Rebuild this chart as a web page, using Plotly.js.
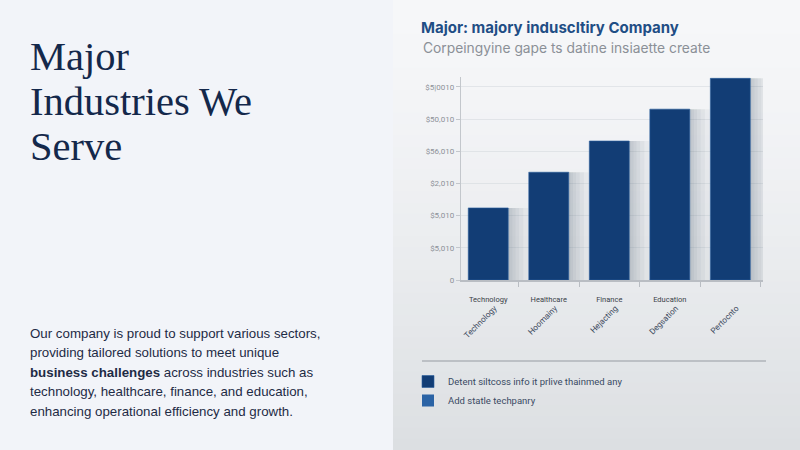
<!DOCTYPE html>
<html>
<head>
<meta charset="utf-8">
<script src="https://cdn.plot.ly/plotly-3.0.1.min.js"></script>
<style>
  html, body { margin: 0; padding: 0; background: #f2f4f9; }
  #chart { width: 800px; height: 450px; }
</style>
</head>
<body>
<div id="chart"></div>
<script>
// ---- data ----
const categories = ['Technology', 'Healthcare', 'Finance', 'Education', 'Pertocnto'];
const values = [2.24, 3.35, 4.32, 5.31, 6.27];
const topTickLabels = ['Technology', 'Healthcare', 'Finance', 'Education', ''];
const slantTickLabels = ['Technology', 'Hoomainy', 'Hejacting', 'Degsation', 'Pertocnto'];
const yTickVals = [0, 1, 2, 3, 4, 5, 6];
const yTickText = ['0', '$5,010', '$5,010', '$2,010', '$56,010', '$50,010', '$5|0010'];
const legendNames = ['Detent siltcoss info it prlive thainmed any', 'Add statle techpanry'];
const headingLines = ['Major', 'Industries We', 'Serve'];
const paragraphLines = [
  'Our company is proud to support various sectors,',
  'providing tailored solutions to meet unique',
  '<b>business challenges</b> across industries such as',
  'technology, healthcare, finance, and education,',
  'enhancing operational efficiency and growth.'
];
const chartTitle = 'Major: majory induscltiry Company';
const chartSubtitle = 'Corpeingyine gape ts datine insiaette create';

// ---- styling helpers ----
const W = 800, H = 450;
const px = x => x / W;
const py = y => 1 - y / H;

const shapes = [];
shapes.push({type: 'rect', xref: 'paper', yref: 'paper', x0: 0, x1: px(393), y0: 0, y1: 1,
  fillcolor: '#f2f4f9', line: {width: 0}, layer: 'below'});
const topC = [246, 247, 249], botC = [220, 223, 226];
const nb = 40;
for (let i = 0; i < nb; i++) {
  const t = i / (nb - 1);
  const c = topC.map((v, k) => Math.round(v + (botC[k] - v) * Math.pow(t, 1.4)));
  shapes.push({type: 'rect', xref: 'paper', yref: 'paper',
    x0: px(393), x1: 1, y0: py((i + 1) * H / nb) - 0.002, y1: py(i * H / nb),
    fillcolor: `rgb(${c[0]},${c[1]},${c[2]})`, line: {width: 0}, layer: 'below'});
}
shapes.push({type: 'line', xref: 'paper', yref: 'paper', x0: px(422), x1: px(766), y0: py(361), y1: py(361),
  line: {color: '#bcc0c5', width: 2}});

const annotations = [];
// heading: one text block; base font sets the line spacing (45px), inner span sets glyph size
annotations.push({
  text: headingLines.map(t => '<span style="font-size:40.5px">' + t + '</span>').join('<br>'),
  xref: 'paper', yref: 'paper', x: px(28), y: py(101), xanchor: 'left', yanchor: 'middle', align: 'left',
  showarrow: false, font: {family: 'Liberation Serif, serif', size: 34.6, color: '#14284b'}
});
paragraphLines.forEach((t, i) => annotations.push({
  text: t, xref: 'paper', yref: 'paper', x: px(28), y: py(333 + i * 19.5), xanchor: 'left', yanchor: 'middle',
  showarrow: false, font: {family: 'Liberation Sans, Arial, sans-serif', size: 13.3, color: '#1e2b45'}
}));
annotations.push({
  text: chartSubtitle, xref: 'paper', yref: 'paper', x: px(421), y: py(48), xanchor: 'left', yanchor: 'middle',
  showarrow: false, font: {family: 'Inter, Roboto, sans-serif', size: 13.8, color: '#8b9097'}
});

const barColor = '#123d75';
const shadowOffsets = [0.03, 0.07, 0.12, 0.18, 0.25, 0.33];
const shadowTraces = shadowOffsets.map(off => ({
  type: 'bar', x: categories, y: values, xaxis: 'x', yaxis: 'y',
  width: 0.66, offset: -0.33 + off,
  marker: {color: 'rgba(60,70,90,0.05)', line: {width: 0}},
  showlegend: false, hoverinfo: 'skip'
}));

const traces = [
  ...shadowTraces,
  {type: 'bar', name: legendNames[0], x: categories, y: values, xaxis: 'x', yaxis: 'y',
   width: 0.66, marker: {color: barColor, line: {color: '#2a5f9e', width: 0.6}}},
  {type: 'bar', name: legendNames[1], x: [categories[0]], y: [0], xaxis: 'x', yaxis: 'y',
   width: 0.66, marker: {color: '#2b63a5', line: {width: 0}}, hoverinfo: 'skip'},
  {type: 'scatter', x: categories, y: values, xaxis: 'x2', yaxis: 'y', mode: 'markers',
   marker: {opacity: 0}, showlegend: false, hoverinfo: 'skip'}
];

const layout = {
  width: W, height: H,
  margin: {l: 0, r: 0, t: 0, b: 0, pad: 0},
  paper_bgcolor: '#f2f4f9',
  plot_bgcolor: 'rgba(0,0,0,0)',
  barmode: 'overlay',
  title: {text: '<b>' + chartTitle + '</b>', x: px(421), xanchor: 'left', xref: 'paper',
    y: py(28), yanchor: 'middle', yref: 'paper',
    font: {family: 'Inter, Roboto, sans-serif', size: 15, color: '#1f4e85'}},
  xaxis: {
    type: 'category', domain: [px(461), px(763)], anchor: 'y',
    range: [-0.45, 4.54], tickvals: categories, ticktext: topTickLabels,
    tickson: 'boundaries', ticks: 'outside', ticklen: 5, tickcolor: '#b9bdc3',
    ticklabelstandoff: 11,
    showline: true, linecolor: '#b9bdc3', linewidth: 1.5, showgrid: false,
    tickfont: {family: 'Roboto, sans-serif', size: 7.5, color: '#3a3f48'}, tickangle: 0,
    fixedrange: true
  },
  xaxis2: {
    type: 'category', overlaying: 'x', anchor: 'free', position: py(301), side: 'bottom',
    range: [-0.55, 4.44], tickvals: categories, ticktext: slantTickLabels,
    ticks: '', showline: false, showgrid: false, tickangle: -45,
    tickfont: {family: 'Roboto, sans-serif', size: 8.2, color: '#3d4a60'}, fixedrange: true
  },
  yaxis: {
    domain: [py(280), py(77.3)], anchor: 'x', range: [0, 6.3],
    tickvals: yTickVals, ticktext: yTickText,
    ticks: 'outside', ticklen: 4, tickcolor: '#c3c7cc',
    showline: true, linecolor: '#c3c7cc', linewidth: 1.2,
    showgrid: true, gridcolor: 'rgba(205,210,216,0.45)', gridwidth: 1, zeroline: false,
    tickfont: {family: 'Roboto, sans-serif', size: 8, color: '#8d9198'}, fixedrange: true
  },
  legend: {
    x: px(408), y: py(367), xanchor: 'left', yanchor: 'top', orientation: 'v',
    bgcolor: 'rgba(0,0,0,0)', itemwidth: 30, tracegroupgap: 0,
    font: {family: 'Roboto, sans-serif', size: 9.5, color: '#3a4a63'}
  },
  shapes: shapes,
  annotations: annotations,
  showlegend: true
};

Plotly.newPlot('chart', traces, layout, {staticPlot: true, displayModeBar: false});
</script>
</body>
</html>
